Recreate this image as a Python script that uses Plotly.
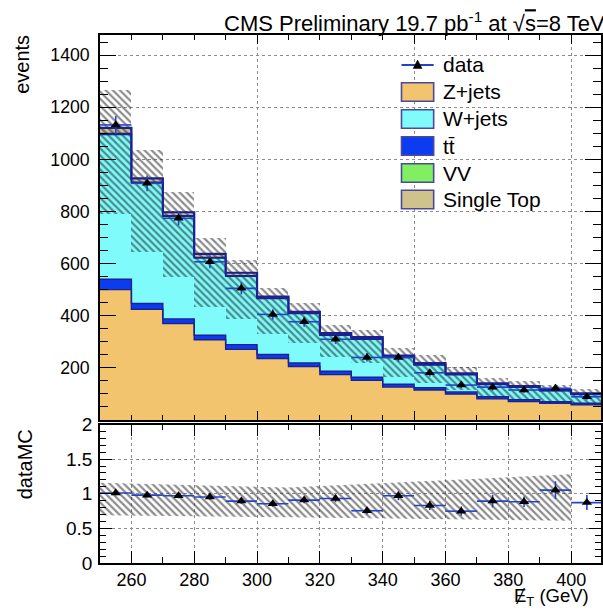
import plotly.graph_objects as go

# ---- binning (missing transverse energy, GeV) ----
bin_edges = [250, 260, 270, 280, 290, 300, 310, 320, 330, 340, 350, 360, 370, 380, 390, 400, 410]
bin_centers = [255, 265, 275, 285, 295, 305, 315, 325, 335, 345, 355, 365, 375, 385, 395, 405]

# ---- stacked backgrounds (events per bin) ----
z_jets = [500, 425, 370, 308, 271, 236, 205, 174, 152, 126, 115, 100, 81, 71, 64, 58]
ttbar = [40, 22, 18, 17, 18, 15, 14, 13, 12, 11, 9, 8, 8, 7, 6, 6]
w_jets = [555, 462, 393, 296, 262, 215, 189, 138, 146, 103, 87, 65, 47, 47, 42, 34]
diboson = [4, 3, 3, 3, 3, 2, 2, 2, 2, 2, 2, 2, 1, 1, 1, 1]
single_top = [22, 15, 13, 13, 11, 5, 5, 6, 6, 5, 5, 4, 4, 4, 3, 3]

# ---- observed data ----
data = [1132, 908, 774, 607, 505, 405, 377, 310, 240, 240, 181, 134, 126, 115, 122, 89]
data_err = [34, 30, 28, 25, 23, 20, 19, 18, 16, 16, 14, 12, 13, 10, 15, 11]

# ---- MC systematic envelope (events) ----
mc_unc_hi = [1265, 1036, 876, 697, 614, 505, 448, 364, 345, 275, 249, 202, 162, 150, 135, 118]
mc_unc_lo = [790, 646, 550, 435, 386, 330, 294, 243, 217, 166, 142, 115, 90, 82, 72, 66]

# ---- relative uncertainty band in the ratio panel ----
ratio_band_x = [250, 310, 400]
ratio_band_hi = [1.16, 1.09, 1.28]
ratio_band_lo = [0.69, 0.66, 0.61]

# ---- colours ----
C_Z = "#f3c46e"
C_W = "#7ffbfb"
C_TT = "#0c3cf2"
C_VV = "#80f062"
C_ST = "#cec48b"
C_EDGE = "#1c2190"
C_DATA = "#2444c8"
C_HATCH = "#1a1a1a"
FONT = "Liberation Sans, Arial, Helvetica, sans-serif"

# stack order from bottom to top
layers = [("Z+jets", z_jets, C_Z), ("tt\u0304", ttbar, C_TT), ("W+jets", w_jets, C_W),
          ("VV", diboson, C_VV), ("Single Top", single_top, C_ST)]

fig = go.Figure()

base = [0.0] * len(bin_centers)
tops = []
for name, vals, col in layers:
    fig.add_trace(go.Bar(x=bin_centers, y=vals, base=list(base), width=10,
                         marker=dict(color=col, line=dict(width=0)),
                         name=name, showlegend=False, xaxis="x", yaxis="y"))
    base = [b + v for b, v in zip(base, vals)]
    tops.append(list(base))

# histogram outlines of every stacked component
for i, top in enumerate(tops):
    fig.add_trace(go.Scatter(x=bin_edges, y=top + [top[-1]], mode="lines",
                             line=dict(color=C_EDGE, width=2.2 if i == len(tops) - 1 else 1.4, shape="hv"),
                             showlegend=False, hoverinfo="skip", xaxis="x", yaxis="y"))

total_mc = tops[-1]

hatch = dict(shape="\\", fgcolor=C_HATCH, bgcolor="rgba(0,0,0,0)", size=5, solidity=0.45)

# hatched systematic band on the stack
fig.add_trace(go.Bar(x=bin_centers, y=[h - l for h, l in zip(mc_unc_hi, mc_unc_lo)], base=mc_unc_lo,
                     width=10,
                     marker=dict(color="rgba(0,0,0,0)", line=dict(width=0), pattern=hatch),
                     showlegend=False, hoverinfo="skip", xaxis="x", yaxis="y"))

# data points
fig.add_trace(go.Scatter(x=bin_centers, y=data, mode="markers",
                         marker=dict(symbol="triangle-up", size=9, color="black"),
                         error_x=dict(type="constant", value=5, color=C_DATA, thickness=1.6, width=0),
                         error_y=dict(type="data", array=data_err, color=C_DATA, thickness=1.6, width=0),
                         showlegend=False, xaxis="x", yaxis="y"))

# ---- ratio panel ----
fig.add_trace(go.Scatter(x=ratio_band_x + ratio_band_x[::-1], y=ratio_band_hi + ratio_band_lo[::-1],
                         mode="lines", fill="toself", line=dict(width=0), fillcolor="rgba(0,0,0,0)",
                         fillpattern=hatch,
                         showlegend=False, hoverinfo="skip", xaxis="x2", yaxis="y2"))

ratio = [d / m for d, m in zip(data, total_mc)]
ratio_err = [e / m for e, m in zip(data_err, total_mc)]
fig.add_trace(go.Scatter(x=bin_centers, y=ratio, mode="markers",
                         marker=dict(symbol="triangle-up", size=9, color="black"),
                         error_x=dict(type="constant", value=5, color=C_DATA, thickness=1.6, width=0),
                         error_y=dict(type="data", array=ratio_err, color=C_DATA, thickness=1.6, width=0),
                         showlegend=False, xaxis="x2", yaxis="y2"))

# ---- geometry helpers (pixel -> paper) ----
W, H = 603, 610
ML, MR, MT, MB = 100, 0, 35, 47
PW, PH = W - ML - MR, H - MT - MB


def px(xp):
    return (xp - ML) / PW


def py(yp):
    return (H - MB - yp) / PH


top_dom = [py(420), 1.0]
rat_dom = [0.0, py(424.5)]

grid = dict(showgrid=True, gridcolor="#8c8c8c", griddash="dot", gridwidth=1)
frame = dict(showline=True, linecolor="black", linewidth=1.6, mirror="ticks",
             ticks="inside", tickcolor="black", tickwidth=1.2, zeroline=False)

fig.update_layout(
    width=W, height=H, margin=dict(l=ML, r=MR, t=MT, b=MB),
    paper_bgcolor="white", plot_bgcolor="white", barmode="overlay", bargap=0,
    showlegend=False, font=dict(family=FONT, color="black"),
    xaxis=dict(domain=[0, 1], anchor="y", range=[250, 409.5], tick0=250, dtick=50, ticklen=9,
               showticklabels=False,
               minor=dict(dtick=10, tick0=250, ticklen=5, ticks="inside", tickcolor="black", showgrid=False),
               **grid, **frame),
    yaxis=dict(domain=top_dom, anchor="x", range=[0, 1477], tickmode="array",
               tickvals=[0, 200, 400, 600, 800, 1000, 1200, 1400],
               ticktext=["", "200", "400", "600", "800", "1000", "1200", "1400"],
               ticklen=16, tickfont=dict(size=17.7), ticklabelstandoff=5,
               minor=dict(tickmode="linear", dtick=50, tick0=0, ticklen=8, ticks="inside",
                          tickcolor="black", showgrid=False),
               **grid, **frame),
    xaxis2=dict(domain=[0, 1], anchor="y2", range=[250, 409.5], tick0=240, dtick=20, ticklen=12,
                tickfont=dict(size=18), ticklabelstandoff=0,
                minor=dict(dtick=10, tick0=250, ticklen=6, ticks="inside", tickcolor="black", showgrid=False),
                **grid, **frame),
    yaxis2=dict(domain=rat_dom, anchor="x2", range=[0, 2], tick0=0, dtick=0.5, ticklen=12,
                tickfont=dict(size=19), ticklabelstandoff=2,
                minor=dict(dtick=0.1, tick0=0, ticklen=6, ticks="inside", tickcolor="black", showgrid=False),
                **grid, **frame),
)

ann = []
ann.append(dict(text="CMS Preliminary 19.7 pb<sup>-1</sup> at \u221a<span style='text-decoration:overline'>s</span>=8 TeV",
                xref="paper", yref="paper", x=px(609), y=py(22), xanchor="right", yanchor="middle",
                showarrow=False, font=dict(size=22)))
ann.append(dict(text="events", xref="paper", yref="paper", x=px(22), y=py(33), xanchor="center",
                yanchor="top", textangle=-90, showarrow=False, font=dict(size=20)))
ann.append(dict(text="dataMC", xref="paper", yref="paper", x=px(25), y=py(427), xanchor="center",
                yanchor="top", textangle=-90, showarrow=False, font=dict(size=20)))
ann.append(dict(text="\u0246<sub>T</sub> (GeV)", xref="paper", yref="paper", x=px(593), y=py(611),
                xanchor="right", yanchor="bottom", showarrow=False, font=dict(size=18.5)))

# ---- legend ----
shapes = []
leg_x0, leg_x1, text_x = 402.7, 435, 442
rows = [("data", None, 65)] + [(n, c, yy) for (n, _, c), yy in
                                zip([layers[0], layers[2], layers[1], layers[3], layers[4]],
                                    [92, 119, 146, 173, 199.5])]
for name, col, yc in rows:
    if col is None:
        shapes.append(dict(type="line", xref="paper", yref="paper", x0=px(leg_x0), x1=px(leg_x1),
                           y0=py(yc), y1=py(yc), line=dict(color=C_DATA, width=2)))
        xc = (leg_x0 + leg_x1) / 2
        path = "M {} {} L {} {} L {} {} Z".format(px(xc - 4.5), py(yc + 3.5), px(xc + 4.5), py(yc + 3.5),
                                                  px(xc), py(yc - 5))
        shapes.append(dict(type="path", xref="paper", yref="paper", path=path, fillcolor="black",
                           line=dict(color="black", width=0.5)))
    else:
        shapes.append(dict(type="rect", xref="paper", yref="paper", x0=px(leg_x0), x1=px(leg_x1),
                           y0=py(yc - 9.2), y1=py(yc + 9.2), fillcolor=col,
                           line=dict(color="#4a4a9c", width=1.6)))
    ann.append(dict(text=name, xref="paper", yref="paper", x=px(text_x), y=py(yc), xanchor="left",
                    yanchor="middle", showarrow=False, font=dict(size=21)))

fig.update_layout(annotations=ann, shapes=shapes)

fig.write_html("out.html")
